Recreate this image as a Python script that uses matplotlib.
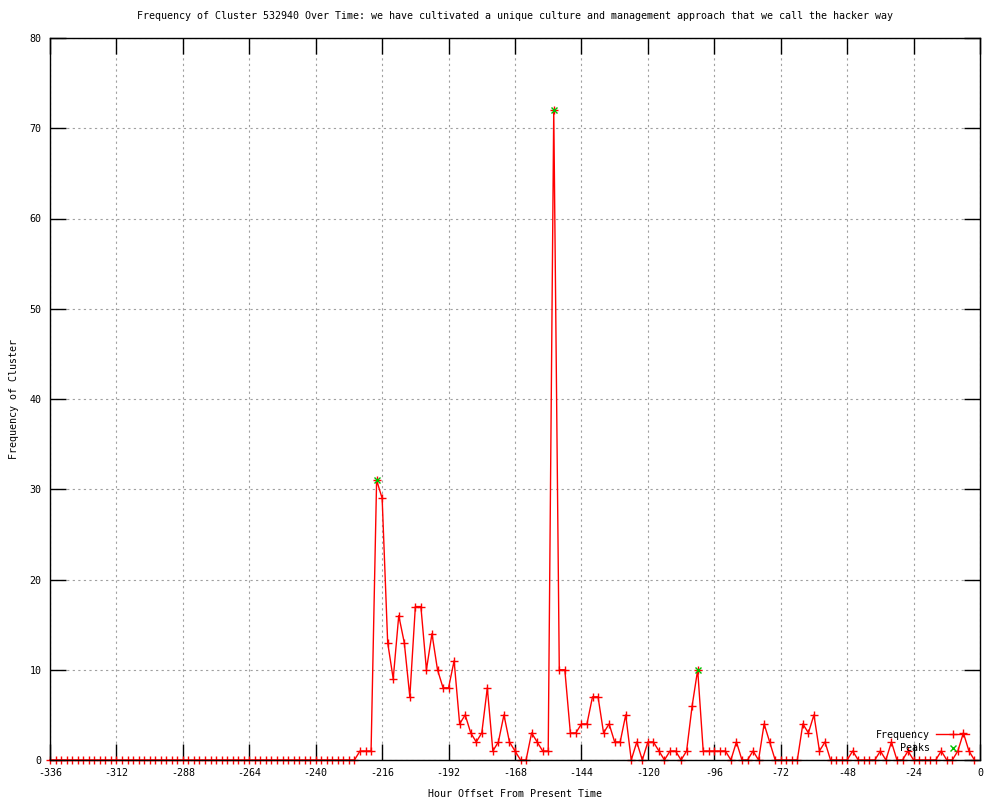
import numpy as np
import matplotlib
matplotlib.use("Agg")
import matplotlib.pyplot as plt

# hourly buckets, every 2 hours from -336 up to -2
hours = np.arange(-336, 0, 2)

# non-zero counts, everything else is 0
nonzero = {
    -224: 1, -222: 1, -220: 1, -218: 31, -216: 29, -214: 13, -212: 9,
    -210: 16, -208: 13, -206: 7, -204: 17, -202: 17, -200: 10, -198: 14,
    -196: 10, -194: 8, -192: 8, -190: 11, -188: 4, -186: 5, -184: 3,
    -182: 2, -180: 3, -178: 8, -176: 1, -174: 2, -172: 5, -170: 2,
    -168: 1, -162: 3, -160: 2, -158: 1, -156: 1, -154: 72, -152: 10,
    -150: 10, -148: 3, -146: 3, -144: 4, -142: 4, -140: 7, -138: 7,
    -136: 3, -134: 4, -132: 2, -130: 2, -128: 5, -124: 2, -120: 2,
    -118: 2, -116: 1, -112: 1, -110: 1, -106: 1, -104: 6, -102: 10,
    -100: 1, -98: 1, -96: 1, -94: 1, -92: 1, -88: 2, -82: 1, -78: 4,
    -76: 2, -64: 4, -62: 3, -60: 5, -58: 1, -56: 2, -46: 1, -36: 1,
    -32: 2, -26: 1, -14: 1, -8: 1, -6: 3, -4: 1,
}
freq = np.array([nonzero.get(h, 0) for h in hours])

peak_hours = [-218, -154, -102]
peak_vals = [31, 72, 10]

title = ("Frequency of Cluster 532940 Over Time: we have cultivated a unique "
         "culture and management approach that we call the hacker way")

plt.rcParams['font.family'] = ['DejaVu Sans Mono']
plt.rcParams['font.size'] = 7.2
plt.rcParams['axes.unicode_minus'] = False

fig = plt.figure(figsize=(10, 8), dpi=100)
ax = fig.add_axes([0.05, 0.05, 0.93, 0.9025])

ax.plot(hours, freq, color='red', lw=1.0, marker='+', ms=6, mew=1.0,
        label='Frequency', clip_on=False, zorder=2)
ax.plot(peak_hours, peak_vals, ls='none', marker='x', color='#00c000',
        ms=5, mew=1.0, label='Peaks', zorder=3)

ax.set_xlim(-336, 0)
ax.set_ylim(0, 80)
ax.set_xticks(np.arange(-336, 1, 24))
ax.set_yticks(np.arange(0, 81, 10))
ax.tick_params(direction='in', length=11.5, width=1, top=True, right=True,
               labelsize=7.2, colors='black', pad=6)
ax.grid(True, color='#a0a0a0', ls=(0, (2, 3)), lw=0.8)
for s in ax.spines.values():
    s.set_linewidth(1.0)
    s.set_zorder(4)

ax.set_title(title, fontsize=7.2, pad=14)
ax.set_xlabel("Hour Offset From Present Time", fontsize=7.2, labelpad=8)
ax.set_ylabel("Frequency of Cluster", fontsize=7.2, labelpad=8)

ax.legend(loc='lower right', bbox_to_anchor=(0.996, 0.0), frameon=False,
          markerfirst=False, fontsize=7.2, handlelength=3.3,
          handletextpad=0.6, labelspacing=0.35, borderaxespad=0.3)

fig.savefig("out.png", dpi=100)
